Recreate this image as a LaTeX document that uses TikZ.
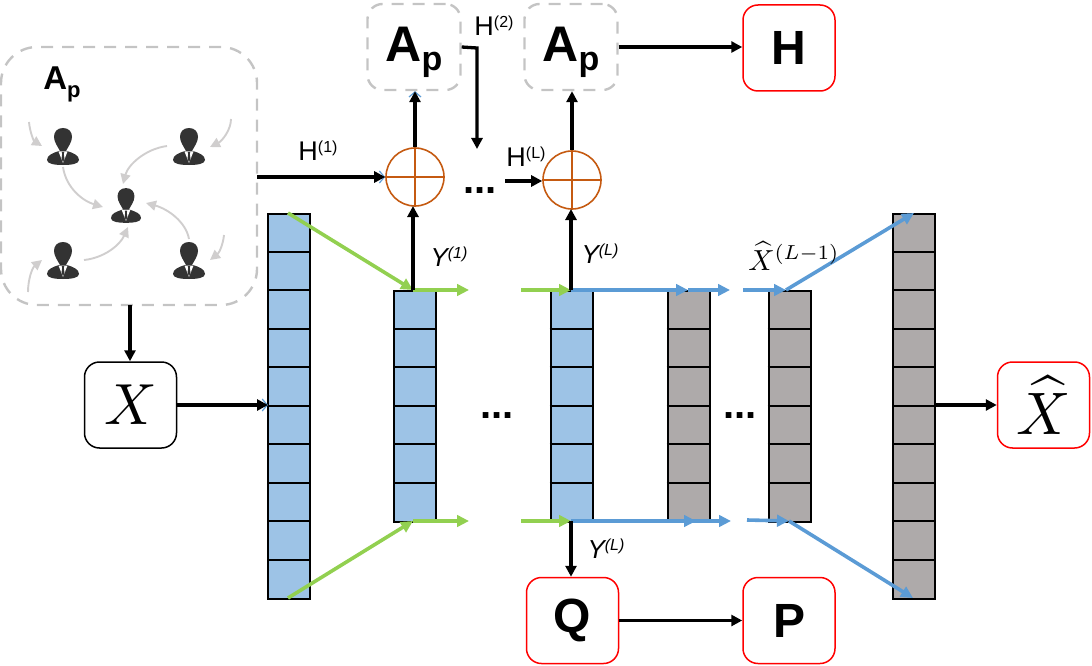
\documentclass[tikz,border=0pt]{standalone}
\usepackage{fontspec}
\setmainfont{Liberation Sans}
\usetikzlibrary{arrows.meta,calc}
\definecolor{cellblue}{HTML}{9DC3E6}
\definecolor{cellgray}{HTML}{AEAAAA}
\definecolor{lgreen}{HTML}{92D050}
\definecolor{lblue}{HTML}{5B9BD5}
\definecolor{orng}{HTML}{C55A11}
\definecolor{dashgray}{HTML}{C4C4C4}
\definecolor{arrgray}{HTML}{D0CECE}
\definecolor{redbox}{HTML}{FF0000}
\definecolor{person}{HTML}{333333}
\tikzset{
  x=1pt,y=-1pt,
  blk/.style={draw=black,line width=3.3pt,-{Triangle[length=11pt,width=11pt]}},
  grn/.style={draw=lgreen,line width=3.6pt,-{Triangle[length=12pt,width=11.5pt]}},
  blu/.style={draw=lblue,line width=3.6pt,-{Triangle[length=12pt,width=11.5pt]}},
  tick/.style={draw=lblue,line width=1.2pt,-{Straight Barb[length=5pt,width=12pt]}},
  gry/.style={draw=arrgray,line width=1.9pt,-{Triangle[length=10pt,width=10pt]}},
  redb/.style={draw=redbox,line width=1.5pt,rounded corners=15pt,minimum width=92pt,minimum height=86pt,inner sep=0pt,font=\fontsize{48}{48}\selectfont\bfseries},
  blkb/.style={draw=black,line width=1.5pt,rounded corners=15pt,minimum width=92pt,minimum height=86pt,inner sep=0pt},
  dashb/.style={draw=dashgray,line width=2.4pt,dash pattern=on 12pt off 9pt,rounded corners=15pt,minimum width=93pt,minimum height=86pt,inner sep=0pt},
  addc/.style={circle,draw=orng,line width=1.6pt,minimum size=58pt,inner sep=0pt},
  colb/.style={draw=black,line width=2pt,minimum width=42pt,inner sep=0pt},
  lab/.style={inner sep=0pt,font=\fontsize{27}{27}\selectfont},
  ylab/.style={inner sep=0pt,font=\fontsize{26}{26}\selectfont\itshape},
  apb/.style={inner sep=0pt,font=\fontsize{50}{50}\selectfont\bfseries},
  dots/.style={inner sep=0pt,font=\fontsize{40}{40}\selectfont\bfseries},
  pics/usr/.style={code={
    \fill[person] (0,-18) .. controls (-6,-18) and (-9,-14) .. (-9,-9)
      .. controls (-9,-4) and (-5,1) .. (-3,5) -- (3,5)
      .. controls (5,1) and (9,-4) .. (9,-9)
      .. controls (9,-14) and (6,-18) .. (0,-18) -- cycle;
    \fill[person] (-4,5) .. controls (-10,7) and (-16,9) .. (-16,14)
      .. controls (-16,18) and (-8,19) .. (0,19)
      .. controls (8,19) and (16,18) .. (16,14)
      .. controls (16,9) and (10,7) .. (4,5) -- cycle;
    \fill[white] (-4.5,5.5) -- (4.5,5.5) -- (0,17) -- cycle;
    \fill[person] (-1.3,6) -- (1.3,6) -- (0.8,8) -- (1.5,13) -- (0,16) -- (-1.5,13) -- (-0.8,8) -- cycle;
  }}
}
\newcommand{\cellcol}[6]{% name, x-centre, top, bottom, n, fill
  \node[colb,fill=#6,minimum height=#4pt-#3pt,anchor=north] (#1) at (#2,#3) {};
  \pgfmathsetmacro{\cellh}{(#4-#3)/#5}
  \pgfmathtruncatemacro{\cellm}{#5-1}
  \foreach \k in {1,...,\cellm}{
    \pgfmathsetmacro{\celly}{round(#3+\k*\cellh)}
    \draw[black,line width=2pt] (#1.north west |- 0,\celly) -- (#1.north east |- 0,\celly);
  }
}
\begin{document}
\begin{tikzpicture}
\useasboundingbox (0,0) rectangle (1092,666);
% columns
\cellcol{c1}{289}{213}{598}{10}{cellblue}
\cellcol{c2}{415}{290}{521}{6}{cellblue}
\cellcol{c3}{571.5}{290}{521}{6}{cellblue}
\cellcol{c4}{688.5}{290}{521}{6}{cellgray}
\cellcol{c5}{789.5}{290}{521}{6}{cellgray}
\cellcol{c6}{914}{213}{598}{10}{cellgray}
% network box
\node[draw=dashgray,line width=2.4pt,dash pattern=on 12pt off 9pt,rounded corners=36pt,minimum width=256pt,minimum height=258pt,inner sep=0pt] (net) at (129,176) {};
\node[inner sep=0pt,font=\fontsize{33}{33}\selectfont\bfseries] (netlab) at (62,84) {A\raisebox{-8pt}{\fontsize{22}{22}\selectfont p}};
% people
\coordinate (u1) at (63,146); \coordinate (u2) at (189,146); \coordinate (u3) at (63,260);
\coordinate (u4) at (189,260); \coordinate (u0) at (126,205);
\pic at (u1) {usr}; \pic at (u2) {usr}; \pic at (u3) {usr}; \pic at (u4) {usr};
\pic[scale=0.94] at (u0) {usr};
\coordinate (a1s) at (29,122); \coordinate (a1e) at (42,146);
\coordinate (a2s) at (231,119); \coordinate (a2e) at (210,147);
\coordinate (a3s) at (63,167); \coordinate (a3e) at (103,207);
\coordinate (a4s) at (167,146); \coordinate (a4e) at (123,184);
\coordinate (a5s) at (84,260); \coordinate (a5e) at (128,227);
\coordinate (a6s) at (189,239); \coordinate (a6e) at (146,203);
\coordinate (a7s) at (224,235); \coordinate (a7e) at (210,260);
\coordinate (a8s) at (28,292); \coordinate (a8e) at (42,260);
\draw[gry] (a1s) .. controls (30,133) and (34,141) .. (a1e);
\draw[gry] (a2s) .. controls (231,130) and (222,141) .. (a2e);
\draw[gry] (a3s) .. controls (66,188) and (83,201) .. (a3e);
\draw[gry] (a4s) .. controls (145,149) and (128,165) .. (a4e);
\draw[gry] (a5s) .. controls (104,258) and (120,245) .. (a5e);
\draw[gry] (a6s) .. controls (186,222) and (168,209) .. (a6e);
\draw[gry] (a7s) .. controls (223,245) and (219,253) .. (a7e);
\draw[gry] (a8s) .. controls (28,280) and (32,268) .. (a8e);
% boxes
\node[blkb] (X) at (130.5,405) {\scalebox{5.8}{$X$}};
\node[redb] (Xh) at (1043.5,405) {\normalsize\mdseries\scalebox{6}{$\widehat{X}$}};
\node[redb] (H) at (789,48) {H};
\node[redb] (Q) at (572.5,620.5) {Q};
\node[redb] (P) at (789,620.5) {P};
\node[dashb] (A1) at (414,47) {};
\node[dashb] (A2) at (571,47) {};
\node[apb] (A1t) at (414,52) {A\raisebox{-9pt}{\fontsize{34}{34}\selectfont p}};
\node[apb] (A2t) at (571,52) {A\raisebox{-9pt}{\fontsize{34}{34}\selectfont p}};
% adders
\node[addc] (S1) at (415,177) {};
\node[addc] (S2) at (572,180) {};
\draw[orng,line width=1.6pt] (S1.north)--(S1.south) (S1.west)--(S1.east);
\draw[orng,line width=1.6pt] (S2.north)--(S2.south) (S2.west)--(S2.east);
% named connector ends
\coordinate (g1a) at (288,213); \coordinate (g1b) at (413,290); \coordinate (g1c) at (469,290);
\coordinate (g2a) at (288,598); \coordinate (g2b) at (413,521); \coordinate (g2c) at (469,521);
\coordinate (g3a) at (521,290); \coordinate (g3b) at (571,290);
\coordinate (g4a) at (521,521); \coordinate (g4b) at (571,521);
\coordinate (b1) at (688,290); \coordinate (b2) at (730,290); \coordinate (b3) at (743,290); \coordinate (b4) at (786,290); \coordinate (b5) at (914,213);
\coordinate (d1) at (696,521); \coordinate (d2) at (731,521); \coordinate (d3) at (747,520); \coordinate (d4) at (789,521); \coordinate (d5) at (913,598);
\coordinate (d1s) at (690,521);
\coordinate (hs) at (257,177);
\coordinate (hc) at (477,48); \coordinate (he) at (477,149);
\coordinate (hl) at (505,181);
\coordinate (yt1) at (413,290); \coordinate (yt1e) at (413,206);
\coordinate (yt2) at (571,290); \coordinate (yt2e) at (571,209);
\coordinate (yb) at (571,521);
\coordinate (xin) at (268,405);
\coordinate (nx) at (130,305);
% green
\draw[grn] (g1a) -- (g1b);
\draw[grn] (g2a) -- (g2b);
\draw[grn] (g1b) -- (g1c);
\draw[grn] (g2b) -- (g2c);
\draw[grn] (g3a) -- (g3b);
\draw[grn] (g4a) -- (g4b);
% blue
\draw[blu] (g3b) -- (b1);
\draw[blu] (b1) -- (b2);
\draw[blu] (b3) -- (b4);
\draw[blu] (b4) -- (b5);
\draw[blu] (g4b) -- (d1);
\draw[blu] (d1s) -- (d2);
\draw[blu] (d3) -- (d4);
\draw[blu] (d4) -- (d5);
% blue ticks under black heads
\draw[tick] ($(S1.west)+(-8,0)$) -- (S1.west);
\draw[tick] ($(xin)+(-8,0)$) -- (xin);
\draw[tick] ($(A1.south)+(1,9)$) -- ($(A1.south)+(1,0)$);
% black
\draw[blk] (hs) -- (S1.west);
\draw[blk] (yt1) -- (yt1e);
\draw[blk] (S1.north) -- (A1.south -| S1.north);
\draw[blk] (A1.east) -- (hc) -- (he);
\draw[blk] (hl) -- (hl -| S2.west);
\draw[blk] (yt2) -- (yt2e);
\draw[blk] (S2.north) -- (S2.north |- A2.south);
\draw[blk] (A2.east) -- (H.west |- A2.east);
\draw[blk] (nx) -- (nx |- X.north);
\draw[blk] (X.east) -- (xin);
\draw[blk] (c6.east |- X.east) -- (Xh.west);
\draw[blk] (yb) -- (yb |- Q.north);
\draw[blk] (Q.east) -- (P.west);
% labels
\node[lab] (h1) at (318,151) {H\raisebox{8pt}{\fontsize{16}{16}\selectfont(1)}};
\node[lab] (h2) at (494,26) {H\raisebox{8pt}{\fontsize{16}{16}\selectfont(2)}};
\node[lab] (h3) at (526,157) {H\raisebox{8pt}{\fontsize{16}{16}\selectfont(L)}};
\node[ylab] (y1) at (449,257) {Y\raisebox{8pt}{\fontsize{16}{16}\selectfont(1)}};
\node[ylab] (y2) at (600,254) {Y\raisebox{8pt}{\fontsize{16}{16}\selectfont(L)}};
\node[ylab] (y3) at (606,549) {Y\raisebox{8pt}{\fontsize{16}{16}\selectfont(L)}};
\node[inner sep=0pt] (xl) at (794,256) {\scalebox{2.9}{$\widehat{X}^{(L-1)}$}};
\node[dots] (t1) at (480,191) {...};
\node[dots] (t2) at (497,416) {...};
\node[dots] (t3) at (740,416) {...};
\end{tikzpicture}
\end{document}
